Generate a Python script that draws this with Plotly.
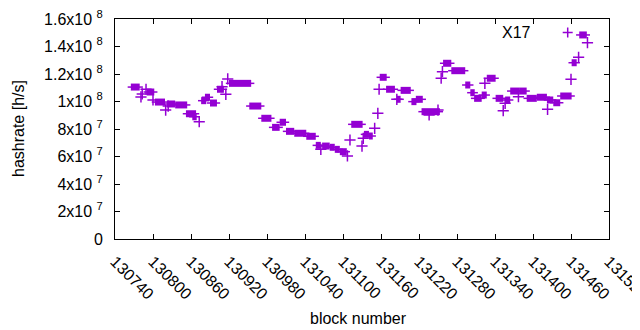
import plotly.graph_objects as go

# ---- data (hashrate values in units of 1e6 h/s) ----
seg_start = [130765, 130790, 130803, 130822, 130835, 130852, 130862, 130876, 130882, 130890,
             130901, 130920, 130952, 130971, 130988, 131000, 131010, 131023, 131042, 131057,
             131067, 131079, 131087, 131095, 131113, 131133, 131141, 131158, 131168, 131185,
             131191, 131208, 131215, 131224, 131258, 131271, 131293, 131301, 131307, 131319,
             131327, 131341, 131356, 131364, 131378, 131390, 131406, 131422, 131432, 131443,
             131461, 131473]
seg_end = [130779, 130802, 130819, 130835, 130854, 130868, 130869, 130884, 130890, 130901,
           130912, 130955, 130971, 130987, 131000, 131010, 131023, 131042, 131057, 131065,
           131079, 131087, 131095, 131106, 131131, 131141, 131147, 131169, 131182, 131191,
           131207, 131216, 131226, 131253, 131271, 131293, 131301, 131308, 131319, 131327,
           131341, 131353, 131364, 131378, 131390, 131406, 131422, 131432, 131443, 131461,
           131469, 131485]
seg_rate_mh = [110.5, 106.9, 99.6, 98.2, 97.5, 91.1, 88.9, 100.6, 103.1, 98.9,
               108.9, 113.2, 96.7, 87.8, 81.2, 84.9, 78.3, 76.9, 74.7, 68.1,
               67.6, 66.7, 65.2, 63.5, 83.4, 76.1, 74.9, 117.6, 108.9, 101.6,
               108.1, 99.9, 101.6, 92.6, 127.8, 122.4, 112.0, 106.4, 102.3, 104.7,
               116.9, 102.3, 101.1, 107.6, 107.6, 102.3, 103.1, 101.1, 99.1, 104.0,
               128.2, 148.4]

pt_block = [130781, 130783, 130789, 130800, 130820, 130824, 130873, 130909, 130915, 130918,
            131065, 131107, 131111, 131130, 131132, 131150, 131155, 131157, 131185, 131236,
            131250, 131257, 131255, 131324, 131353, 131356, 131377, 131423, 131460, 131472,
            131486]
pt_rate_mh = [103.3, 105.5, 108.9, 101.1, 93.8, 96.7, 85.3, 110.8, 105.2, 116.4,
              65.2, 60.4, 72.0, 67.6, 73.2, 80.5, 91.4, 108.9, 101.6, 90.2,
              93.8, 121.7, 116.9, 113.2, 93.3, 98.7, 103.5, 94.3, 116.1, 132.1,
              142.8]

series_name = "X17"
x_tickvals = [130740, 130800, 130860, 130920, 130980, 131040, 131100, 131160,
              131220, 131280, 131340, 131400, 131460, 131520]
y_tickvals = [0, 2e7, 4e7, 6e7, 8e7, 1e8, 1.2e8, 1.4e8, 1.6e8]
y_ticktext = ["0", "2x10 <sup>7</sup>", "4x10 <sup>7</sup>", "6x10 <sup>7</sup>",
              "8x10 <sup>7</sup>", "1x10 <sup>8</sup>", "1.2x10 <sup>8</sup>",
              "1.4x10 <sup>8</sup>", "1.6x10 <sup>8</sup>"]

COLOR = "#9400D3"
FONT = "Liberation Sans, Arial, sans-serif"
FS = 16
EXT = 5  # thin whisker extension in blocks

box_x, box_y, wh_x, wh_y = [], [], [], []
for s, e, r in zip(seg_start, seg_end, seg_rate_mh):
    box_x += [s, e, None]
    box_y += [r * 1e6, r * 1e6, None]
    wh_x += [s - EXT, e + EXT, None]
    wh_y += [r * 1e6, r * 1e6, None]

fig = go.Figure()
fig.add_trace(go.Scatter(x=wh_x, y=wh_y, mode="lines",
                         line=dict(color=COLOR, width=1.5), showlegend=False, hoverinfo="skip"))
fig.add_trace(go.Scatter(x=box_x, y=box_y, mode="lines",
                         line=dict(color=COLOR, width=7), showlegend=False, name=series_name))
fig.add_trace(go.Scatter(x=pt_block, y=[v * 1e6 for v in pt_rate_mh], mode="markers",
                         marker=dict(symbol="cross-thin", size=8,
                                     line=dict(color=COLOR, width=1.5)),
                         showlegend=False, name=series_name))

axis_common = dict(showline=True, linecolor="black", linewidth=1, mirror="ticks",
                   ticks="inside", ticklen=5, tickcolor="black", showgrid=False,
                   zeroline=False, ticklabeloverflow="allow",
                   tickfont=dict(family=FONT, size=FS, color="black"))

fig.update_xaxes(range=[130740, 131520], tickvals=x_tickvals,
                 ticktext=[str(v) for v in x_tickvals], tickangle=45,
                 ticklabelstandoff=6, **axis_common)
fig.update_yaxes(range=[0, 1.6e8], tickvals=y_tickvals, ticktext=y_ticktext,
                 ticklabelstandoff=8, **axis_common)

# plot area in page pixels (reference): x 115..609, y 19..239
PX0, PY1, PW, PH = 115, 239, 494, 220

# key: text then sample point (gnuplot style)
fig.add_annotation(xref="paper", yref="paper", x=(533 - PX0) / PW, y=(PY1 - 32) / PH,
                   text=series_name, showarrow=False, xanchor="right", yanchor="middle",
                   font=dict(family=FONT, size=FS, color="black"))
kx, ky = (567.7 - PX0) / PW, (PY1 - 32.5) / PH
dx, dy = 5 / PW, 5 / PH
fig.add_shape(type="line", xref="paper", yref="paper", x0=kx - dx, x1=kx + dx, y0=ky, y1=ky,
              line=dict(color=COLOR, width=1.5))
fig.add_shape(type="line", xref="paper", yref="paper", x0=kx, x1=kx, y0=ky - dy, y1=ky + dy,
              line=dict(color=COLOR, width=1.5))

# axis titles
fig.add_annotation(xref="paper", yref="paper", x=(358 - PX0) / PW, y=(PY1 - 318) / PH,
                   text="block number", showarrow=False, xanchor="center", yanchor="middle",
                   font=dict(family=FONT, size=FS, color="black"))
fig.add_annotation(xref="paper", yref="paper", x=(18 - PX0) / PW, y=(PY1 - 129) / PH,
                   text="hashrate [h/s]", showarrow=False, textangle=-90,
                   xanchor="center", yanchor="middle",
                   font=dict(family=FONT, size=FS, color="black"))

# page has an 8px body margin, so the figure starts at (8, 8)
fig.update_layout(width=640, height=330,
                  margin=dict(l=107, r=640 - 601, t=11, b=330 - 231, autoexpand=False),
                  plot_bgcolor="white", paper_bgcolor="white", showlegend=False)

fig.write_html("out.html")
